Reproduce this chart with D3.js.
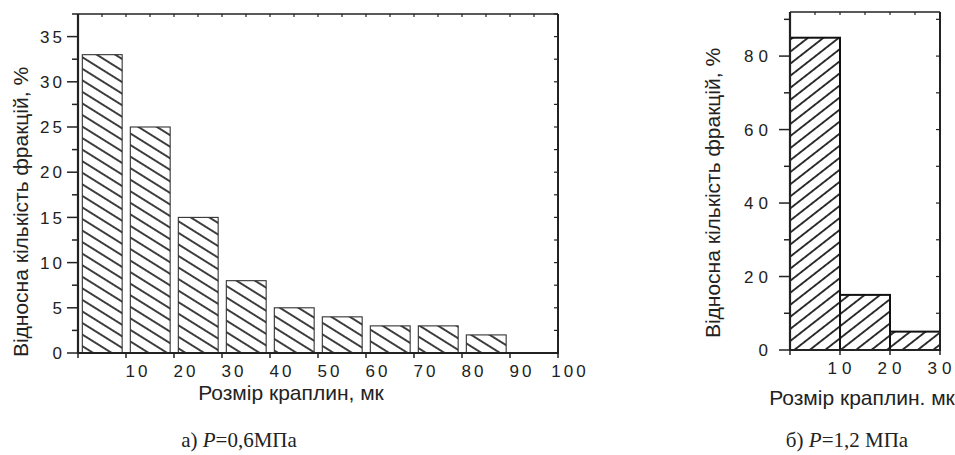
<!DOCTYPE html>
<html lang="uk">
<head>
<meta charset="UTF-8">
<title>Розмір краплин</title>
<style>
  body { margin: 0; background: #fff; }
  svg { display: block; }
  .tick-label { font-family: 'Liberation Sans', Arial, sans-serif; font-size: 17px; fill: #222; }
  .axis-title { font-family: 'Liberation Sans', Arial, sans-serif; font-size: 21px; fill: #222; }
  .caption { font-family: 'Liberation Serif', 'Times New Roman', serif; font-size: 21px; fill: #222; }
</style>
</head>
<body>
<svg width="955" height="455"></svg>
<script src="https://d3js.org/d3.v7.min.js"></script>
<script>
// chart а) P=0,6 МПа
const binsA = [0, 10, 20, 30, 40, 50, 60, 70, 80];
const shareA = [33, 25, 15, 8, 5, 4, 3, 3, 2];
const xTicksA = [10, 20, 30, 40, 50, 60, 70, 80, 90, 100];
const yTicksA = [0, 5, 10, 15, 20, 25, 30, 35];

// chart б) P=1,2 МПа
const binsB = [0, 10, 20];
const shareB = [85, 15, 5];
const xTicksB = [10, 20, 30];
const yTicksB = [0, 20, 40, 60, 80];

const svg = d3.select("svg");
const defs = svg.append("defs");

function hatch(id, angle, gap, width) {
  const p = defs.append("pattern")
    .attr("id", id)
    .attr("patternUnits", "userSpaceOnUse")
    .attr("width", 20).attr("height", gap)
    .attr("patternTransform", `rotate(${angle})`);
  p.append("rect").attr("width", 20).attr("height", gap).attr("fill", "#fff");
  p.append("line")
    .attr("x1", 0).attr("x2", 20)
    .attr("y1", gap / 2).attr("y2", gap / 2)
    .attr("stroke", "#111").attr("stroke-width", width);
}
hatch("hatchA", 32, 9.8, 1.6);
hatch("hatchB", -38, 9.5, 1.7);

function drawChart(opt) {
  const x = d3.scaleLinear().domain(opt.xDomain).range([opt.left, opt.right]);
  const y = d3.scaleLinear().domain(opt.yDomain).range([opt.bottom, opt.top]);
  const g = svg.append("g");

  // bars
  g.selectAll("rect.bar")
    .data(opt.bins)
    .enter().append("rect")
    .attr("class", "bar")
    .attr("x", d => x(d + opt.barPad[0]))
    .attr("width", d => x(d + opt.barPad[1]) - x(d + opt.barPad[0]))
    .attr("y", (d, i) => y(opt.values[i]))
    .attr("height", (d, i) => y(0) - y(opt.values[i]))
    .attr("fill", `url(#${opt.pattern})`)
    .attr("stroke", opt.barStroke)
    .attr("stroke-width", opt.barStrokeWidth);

  const tk = "#222";
  // frame
  g.append("line").attr("x1", opt.left).attr("x2", opt.right).attr("y1", opt.top).attr("y2", opt.top)
    .attr("stroke", tk).attr("stroke-width", 1.5);
  g.append("line").attr("x1", opt.right).attr("x2", opt.right).attr("y1", opt.top).attr("y2", opt.bottom)
    .attr("stroke", tk).attr("stroke-width", 2);
  g.append("line").attr("x1", opt.left).attr("x2", opt.left).attr("y1", opt.top).attr("y2", opt.bottom)
    .attr("stroke", tk).attr("stroke-width", 2.2);
  g.append("line").attr("x1", opt.left).attr("x2", opt.right + 1).attr("y1", opt.bottom).attr("y2", opt.bottom)
    .attr("stroke", tk).attr("stroke-width", 2);

  // y ticks (left outward, right inward)
  const yMinor = d3.range(opt.yDomain[0], opt.yDomain[1] + 0.01, opt.yMinor);
  yMinor.forEach(v => {
    const major = yTicksHas(opt.yTicks, v);
    const len = major ? 11 : 6;
    g.append("line").attr("x1", opt.left - len).attr("x2", opt.left)
      .attr("y1", y(v)).attr("y2", y(v)).attr("stroke", tk).attr("stroke-width", 1.5);
    g.append("line").attr("x1", opt.right - 4).attr("x2", opt.right)
      .attr("y1", y(v)).attr("y2", y(v)).attr("stroke", tk).attr("stroke-width", 1.2);
  });
  // top ticks
  d3.range(opt.xDomain[0], opt.xDomain[1] + 0.01, 5).forEach(v => {
    g.append("line").attr("x1", x(v)).attr("x2", x(v))
      .attr("y1", opt.top).attr("y2", opt.top + 3).attr("stroke", tk).attr("stroke-width", 1.2);
  });
  // bottom ticks
  [0].concat(opt.xTicks).forEach(v => {
    g.append("line").attr("x1", x(v)).attr("x2", x(v))
      .attr("y1", opt.bottom).attr("y2", opt.bottom + 5).attr("stroke", tk).attr("stroke-width", 1.5);
  });

  // tick labels
  g.selectAll("text.yl").data(opt.yTicks).enter().append("text")
    .attr("class", "tick-label")
    .style("letter-spacing", opt.spacing + "px")
    .attr("x", opt.left - opt.yLabelGap).attr("y", d => y(d)).attr("dy", "0.36em")
    .attr("text-anchor", "end")
    .text(d => d);
  g.selectAll("text.xl").data(opt.xTicks).enter().append("text")
    .attr("class", "tick-label")
    .style("letter-spacing", opt.spacing + "px")
    .attr("x", d => x(d) + opt.xLabelShift).attr("y", opt.bottom + 24)
    .attr("text-anchor", "middle")
    .text(d => d);

  // titles
  g.append("text").attr("class", "axis-title")
    .attr("transform", `translate(${opt.yTitleX},${opt.yTitleY}) rotate(-90)`)
    .attr("text-anchor", "middle")
    .text("Відносна кількість фракцій, %");
  g.append("text").attr("class", "axis-title")
    .attr("x", opt.xTitleX).attr("y", opt.xTitleY)
    .attr("text-anchor", "middle")
    .text(opt.xTitle);

  const cap = g.append("text").attr("class", "caption")
    .attr("x", opt.capX).attr("y", 447).attr("text-anchor", "middle");
  cap.append("tspan").text(opt.caption[0]);
  cap.append("tspan").attr("font-style", "italic").text("P");
  cap.append("tspan").text(opt.caption[1]);
}

function yTicksHas(ticks, v) {
  return ticks.some(t => Math.abs(t - v) < 1e-6);
}

drawChart({
  left: 78, right: 558, top: 14, bottom: 353,
  xDomain: [0, 100], yDomain: [0, 37.5],
  bins: binsA, values: shareA, barPad: [0.9, 9.2],
  xTicks: xTicksA, yTicks: yTicksA, yMinor: 2.5,
  pattern: "hatchA", barStroke: "#333", barStrokeWidth: 1.1,
  spacing: 3, yLabelGap: 13, xLabelShift: 12,
  yTitleX: 28, yTitleY: 212,
  xTitle: "Розмір краплин, мк", xTitleX: 291, xTitleY: 400,
  capX: 239, caption: ["а) ", "=0,6МПа"]
});

drawChart({
  left: 790, right: 940, top: 12, bottom: 350,
  xDomain: [0, 30], yDomain: [0, 92],
  bins: binsB, values: shareB, barPad: [0, 10],
  xTicks: xTicksB, yTicks: yTicksB, yMinor: 10,
  pattern: "hatchB", barStroke: "#111", barStrokeWidth: 2,
  spacing: 5, yLabelGap: 17, xLabelShift: 2,
  yTitleX: 720, yTitleY: 193,
  xTitle: "Розмір краплин. мк", xTitleX: 862, xTitleY: 405,
  capX: 847, caption: ["б) ", "=1,2 МПа"]
});
</script>
</body>
</html>
